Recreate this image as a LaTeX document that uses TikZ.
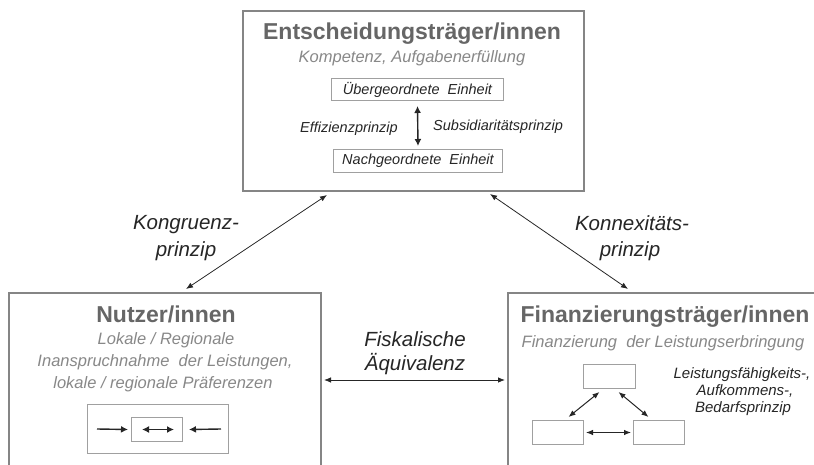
\documentclass[tikz,border=0pt]{standalone}
\usepackage{fontspec}
\setmainfont{Liberation Sans}
\usetikzlibrary{arrows.meta,calc}
\definecolor{boxgray}{HTML}{858585}
\definecolor{titlegray}{HTML}{666666}
\definecolor{subgray}{HTML}{888888}
\definecolor{innergray}{HTML}{A0A0A0}
\definecolor{ink}{HTML}{262626}
\begin{document}
\begin{tikzpicture}[x=1pt,y=-1pt,
  bigbox/.style={draw=boxgray,line width=2pt,rectangle,inner sep=0pt,anchor=north west},
  smallbox/.style={draw=innergray,line width=1pt,fill=white,inner sep=0pt,anchor=north west},
  titletext/.style={font=\fontsize{23}{27}\selectfont\bfseries,text=titlegray,anchor=base,inner sep=0pt},
  subtext/.style={font=\fontsize{16.5}{20}\selectfont\itshape,text=subgray,anchor=base,inner sep=0pt},
  labeltext/.style={font=\fontsize{20.5}{25}\selectfont\itshape,text=ink,anchor=base,inner sep=0pt},
  smalltext/.style={font=\fontsize{14.5}{17}\selectfont\itshape,text=ink,inner sep=0pt},
  tiptext/.style={font=\fontsize{15}{18}\selectfont\itshape,text=ink,anchor=base,inner sep=0pt},
  arr/.style={{Latex[length=7pt,width=5.5pt]}-{Latex[length=7pt,width=5.5pt]},line width=0.8pt,draw=ink},
  boldarr/.style={{Latex[length=7pt,width=7pt]}-{Latex[length=7pt,width=7pt]},line width=1.4pt,draw=ink},
  boldsarr/.style={-{Latex[length=7pt,width=7pt]},line width=1.4pt,draw=ink}
]
\useasboundingbox (0,0) rectangle (814,465);
\fill[white] (0,0) rectangle (814,465);
\clip (0,0) rectangle (814,465);

% big boxes
\node[bigbox,minimum width=341pt,minimum height=180pt] (top) at (242,10) {};
\node[bigbox,minimum width=312pt,minimum height=200pt] (nutz) at (8,292) {};
\node[bigbox,minimum width=330pt,minimum height=200pt] (fin) at (507,292) {};

% top box content
\node[titletext] (toptitle) at (412,40) {Entscheidungsträger/innen};
\node[subtext] (topsub) at (412,63) {Kompetenz, Aufgabenerfüllung};
\node[smallbox,smalltext,minimum width=172pt,minimum height=22pt] (ueber) at (331,78) {Übergeordnete\ \ Einheit};
\node[smallbox,smalltext,minimum width=169pt,minimum height=23pt] (nach) at (333,149) {Nachgeordnete\ \ Einheit};
\draw[boldarr] ([yshift=-5pt]ueber.south) -- ([yshift=3pt]nach.north);
\node[smalltext,anchor=base] (eff) at (349,133) {Effizienzprinzip};
\node[smalltext,anchor=base west] (subs) at (433,131) {Subsidiaritätsprinzip};

% left box content
\node[titletext] (nutztitle) at (166,322) {Nutzer/innen};
\node[subtext] (nutz1) at (166,344) {Lokale / Regionale};
\node[subtext] (nutz2) at (165,366) {Inanspruchnahme\ \ der Leistungen,};
\node[subtext] (nutz3) at (163,388) {lokale / regionale Präferenzen};
\node[smallbox,minimum width=141pt,minimum height=49pt] (nbox) at (87,404) {};
\node[smallbox,minimum width=51pt,minimum height=24pt] (ncen) at (131,417) {};
\draw[boldsarr] ($(nbox.west)+(10,0)$) -- ($(ncen.west)+(-3,0)$);
\draw[boldarr] ($(ncen.west)+(11,0)$) -- ($(ncen.east)+(-9,0)$);
\draw[boldsarr] ($(nbox.east)+(-8,0)$) -- ($(ncen.east)+(6,0)$);

% right box content
\node[titletext] (fintitle) at (665,322) {Finanzierungsträger/innen};
\node[subtext] (finsub) at (663,347) {Finanzierung\ \ der Leistungserbringung};
\node[smallbox,minimum width=52pt,minimum height=24pt] (ftop) at (583,364) {};
\node[smallbox,minimum width=51pt,minimum height=24pt] (fbl) at (532,420) {};
\node[smallbox,minimum width=51pt,minimum height=24pt] (fbr) at (633,420) {};
\draw[arr,line width=1pt] ($(ftop.south)+(-10,3)$) -- ($(fbl.north)+(10.5,-3)$);
\draw[arr,line width=1pt] ($(ftop.south)+(9,3)$) -- ($(fbr.north)+(-10.5,-3)$);
\draw[arr,line width=1pt] ($(fbl.east)+(2,0)$) -- ($(fbr.west)+(-2,0)$);
\node[tiptext] (fin1) at (742,378) {Leistungsfähigkeits-,};
\node[tiptext] (fin2) at (745,395) {Aufkommens-,};
\node[tiptext] (fin3) at (743,412) {Bedarfsprinzip};

% main connectors
\draw[arr] ($(top.south west)+(85,3)$) -- ($(nutz.north west)+(178,-3)$);
\draw[arr] ($(top.south east)+(-95,2)$) -- ($(fin.north west)+(121,-3)$);
\draw[arr] ($(nutz.north east)+(2,88)$) -- ($(fin.north west)+(-2,88)$);

% connector labels
\node[labeltext] (kong1) at (186,230) {Kongruenz-};
\node[labeltext] (kong2) at (186,257) {prinzip};
\node[labeltext] (konn1) at (632,231) {Konnexitäts-};
\node[labeltext] (konn2) at (630,257) {prinzip};
\node[labeltext] (fis1) at (415,346) {Fiskalische};
\node[labeltext] (fis2) at (415,370) {Äquivalenz};
\end{tikzpicture}
\end{document}
